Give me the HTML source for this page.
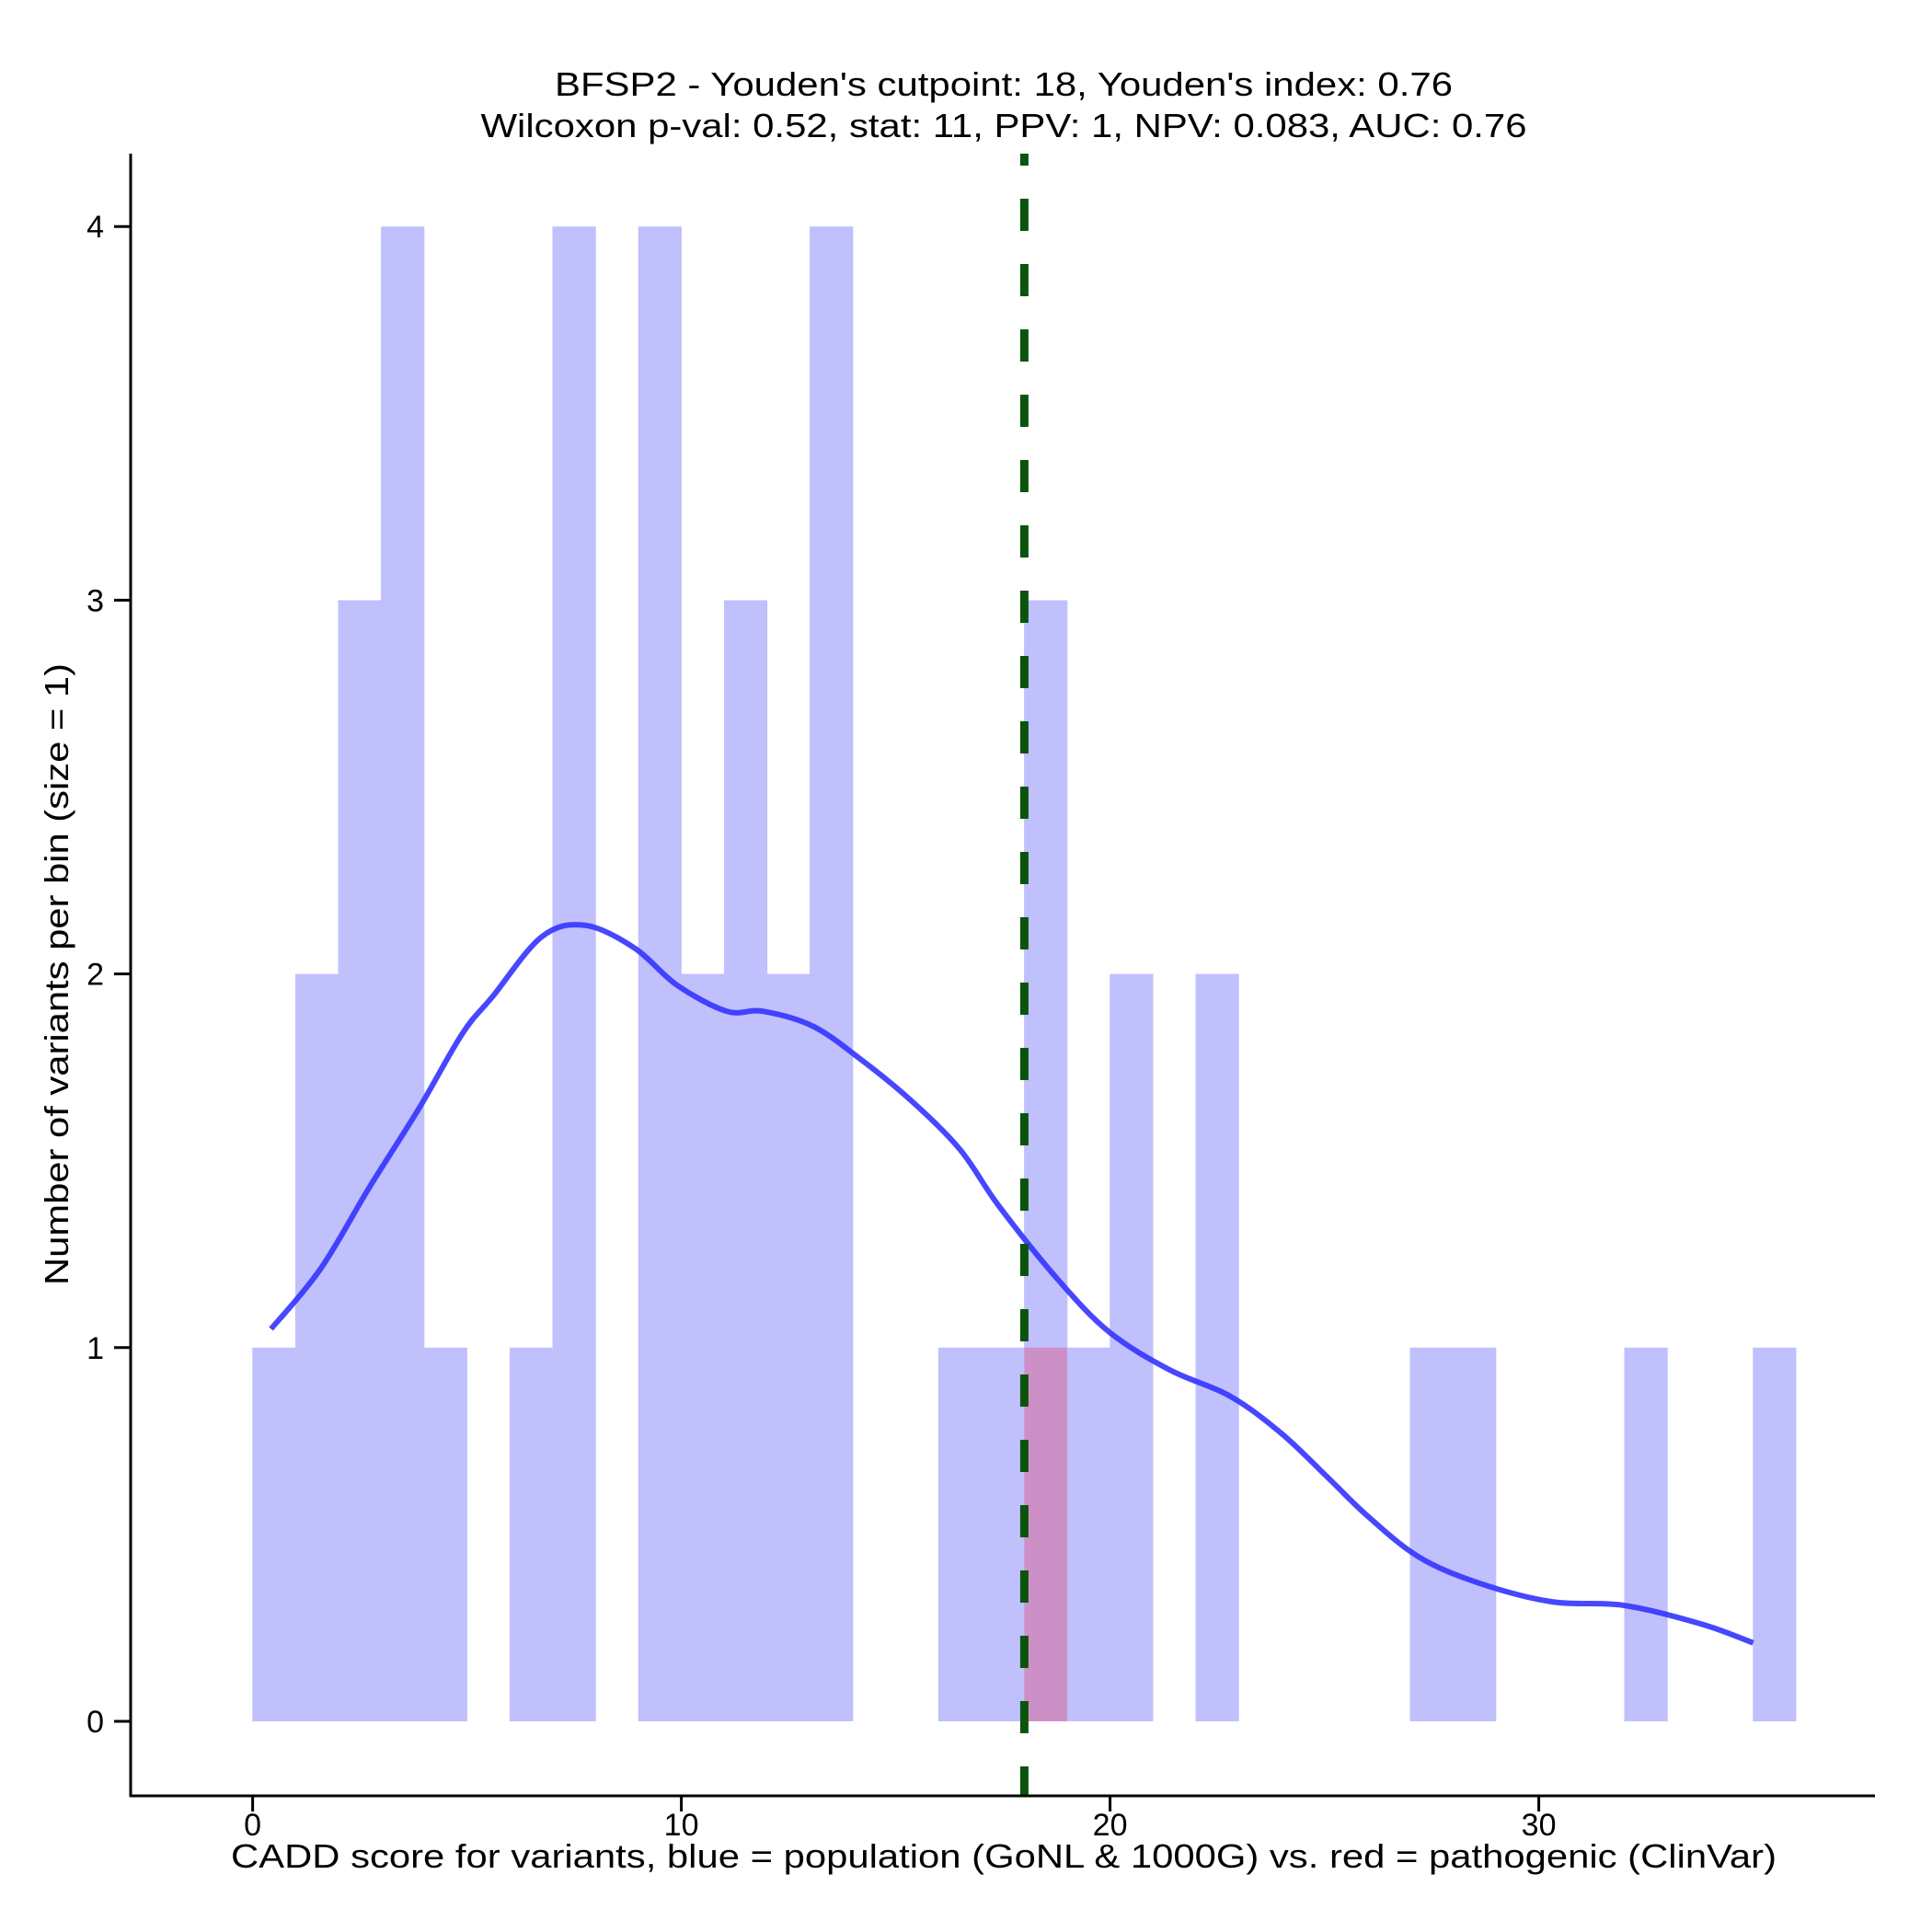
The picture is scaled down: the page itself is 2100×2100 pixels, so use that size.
<!DOCTYPE html>
<html><head><meta charset="utf-8"><style>
html,body{margin:0;padding:0;background:#fff;}
svg{display:block;font-family:"Liberation Sans",Arial,sans-serif;}
</style></head><body>
<svg id="chart" width="2100" height="2100" viewBox="0 0 2100 2100" xmlns="http://www.w3.org/2000/svg">
<text x="1091" y="104" font-size="36" text-anchor="middle" textLength="976" lengthAdjust="spacingAndGlyphs">BFSP2 - Youden's cutpoint: 18, Youden's index: 0.76</text>
<text x="1091" y="149" font-size="36" text-anchor="middle" textLength="1137" lengthAdjust="spacingAndGlyphs">Wilcoxon p-val: 0.52, stat: 11, PPV: 1, NPV: 0.083, AUC: 0.76</text>
<g id="bars-blue"></g>
<g id="bars-red"></g>
<path id="density" fill="none" stroke="#3333ff" stroke-opacity="0.9" stroke-width="6" stroke-linejoin="round"/>
<line id="cutline" stroke="#0b540b" stroke-width="9" stroke-dasharray="35,36" stroke-dashoffset="22"/>
<line x1="142" y1="167" x2="142" y2="1953" stroke="#000" stroke-width="3"/>
<line x1="141" y1="1952" x2="2038" y2="1952" stroke="#000" stroke-width="3"/>
<g id="xticks"></g>
<g id="yticks"></g>
<text x="1091" y="2030" font-size="36" text-anchor="middle" textLength="1680" lengthAdjust="spacingAndGlyphs">CADD score for variants, blue = population (GoNL &amp; 1000G) vs. red = pathogenic (ClinVar)</text>
<text transform="translate(74,1059) rotate(-90)" font-size="36" text-anchor="middle" textLength="676" lengthAdjust="spacingAndGlyphs">Number of variants per bin (size = 1)</text>
</svg>
<script>
const binStarts = [0,1,2,3,4,6,7,9,10,11,12,13,16,17,18,19,20,22,27,28,32,35];
const blueCounts = [1,2,3,4,1,1,4,4,2,3,2,4,1,1,3,1,2,2,1,1,1,1];
const redStarts = [18];
const redCounts = [1];
const densX = [0.43,1.58,2.73,3.88,4.89,5.6,6.75,7.76,8.9,9.9,11.06,11.9,13.07,14.2,15.37,16.5,17.4,18.8,20,21.4,22.8,24,25.1,26,27.2,28.6,30.3,32,33.8,35];
const densY = [1.05,1.21,1.43,1.64,1.84,1.94,2.10,2.13,2.07,1.97,1.90,1.90,1.86,1.77,1.66,1.53,1.38,1.18,1.04,0.94,0.87,0.77,0.65,0.55,0.44,0.37,0.32,0.31,0.26,0.21];
const cutpoint = 18;
const xTicks = [0,10,20,30];
const yTicks = [0,1,2,3,4];
const binWidth = 1;

const NS = "http://www.w3.org/2000/svg";
const xs = v => 274.6 + v * 46.6;
const ys = v => 1871 - v * 406.2;

function mk(tag, parent, attrs) {
  const e = document.createElementNS(NS, tag);
  for (const k in attrs) e.setAttribute(k, attrs[k]);
  parent.appendChild(e);
  return e;
}
const gb = document.getElementById('bars-blue');
binStarts.forEach((s, i) => {
  const r = mk('rect', gb, {x: xs(s) - 0.3, y: ys(blueCounts[i]), width: xs(s + binWidth) - xs(s) + 0.6, height: ys(0) - ys(blueCounts[i]), fill: '#c0c0fd'});
  
  
});
const gr = document.getElementById('bars-red');
redStarts.forEach((s, i) => {
  const r = mk('rect', gr, {x: xs(s), y: ys(redCounts[i]), width: xs(s + binWidth) - xs(s), height: ys(0) - ys(redCounts[i]), fill: '#cd90c6'});
  
  
});
const P = densX.map((x, i) => [xs(x), ys(densY[i])]);
let d = 'M' + P[0][0].toFixed(1) + ',' + P[0][1].toFixed(1);
for (let i = 0; i < P.length - 1; i++) {
  const p0 = P[Math.max(0, i - 1)], p1 = P[i], p2 = P[i + 1], p3 = P[Math.min(P.length - 1, i + 2)];
  const c1 = [p1[0] + (p2[0] - p0[0]) / 6, p1[1] + (p2[1] - p0[1]) / 6];
  const c2 = [p2[0] - (p3[0] - p1[0]) / 6, p2[1] - (p3[1] - p1[1]) / 6];
  d += 'C' + c1[0].toFixed(1) + ',' + c1[1].toFixed(1) + ' ' + c2[0].toFixed(1) + ',' + c2[1].toFixed(1) + ' ' + p2[0].toFixed(1) + ',' + p2[1].toFixed(1);
}
document.getElementById('density').setAttribute('d', d);
const cl = document.getElementById('cutline');
cl.setAttribute('x1', xs(cutpoint)); cl.setAttribute('x2', xs(cutpoint));
cl.setAttribute('y1', 167); cl.setAttribute('y2', 1952);

const gx = document.getElementById('xticks');
xTicks.forEach(t => {
  const l = mk('line', gx, {x1: xs(t), x2: xs(t), y1: 1952, y2: 1969, stroke: '#000', 'stroke-width': 3});
  
  
  const tx = mk('text', gx, {x: xs(t), y: 1995, 'font-size': 34, 'text-anchor': 'middle'});
  tx.textContent = t;
  
  
});
const gy = document.getElementById('yticks');
yTicks.forEach(t => {
  const l = mk('line', gy, {x1: 124, x2: 142, y1: ys(t), y2: ys(t), stroke: '#000', 'stroke-width': 3});
  
  
  const tx = mk('text', gy, {x: 113, y: ys(t) + 12, 'font-size': 34, 'text-anchor': 'end'});
  tx.textContent = t;
  
  
});
</script>
</body></html>
